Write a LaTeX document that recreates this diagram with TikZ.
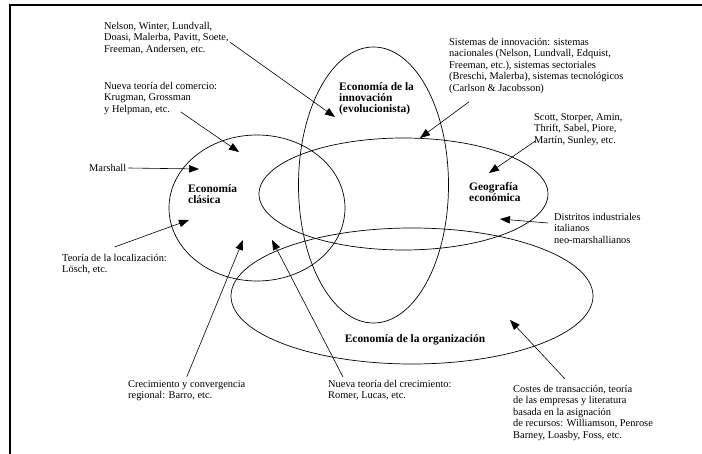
\documentclass[tikz,border=0pt]{standalone}
\usepackage{fontspec}
\setmainfont{Liberation Serif}
\usetikzlibrary{arrows.meta}
\begin{document}
\begin{tikzpicture}[x=1pt,y=1pt,
    lbl/.style={align=left,anchor=north west,font=\fontsize{10.4}{11.5}\selectfont},
    area/.style={align=left,anchor=north west,font=\fontsize{11.4}{11.2}\selectfont\bfseries},
    arr/.style={black,line width=0.6pt,-{Triangle[length=10pt,width=7.5pt]}},
    ring/.style={black,line width=0.7pt}]
    \tikzstyle{every node}+=[inner sep=0pt]
    \useasboundingbox (0,0) rectangle (702,-454);
    \draw [black,line width=2.5pt] (10,-454) -- (10,-5) -- (702,-5);
    % the four fields
    \draw [ring] (257,-208) ellipse (88 and 73);
    \draw [ring] (373.5,-185) ellipse (75 and 138);
    \draw [ring] (403.5,-194) ellipse (144.5 and 56);
    \draw [ring] (412,-296) ellipse (181 and 68);
    \node [area] (clasica) at (188,-184) {Economía\\clásica};
    \node [area] (innov) at (339,-82) {Economía de la\\innovación\\(evolucionista)};
    \node [area] (geo) at (469,-182) {Geografía\\económica};
    \node [area,anchor=center] (organiz) at (415,-340) {Economía de la organización};
    % authors
    \node [lbl] (nelson) at (104,-22) {Nelson, Winter, Lundvall,\\Doasi, Malerba, Pavitt, Soete,\\Freeman, Andersen, etc.};
    \node [lbl] (comercio) at (104,-82) {Nueva teoría del comercio:\\Krugman, Grossman\\y Helpman, etc.};
    \node [lbl,anchor=west] (marshall) at (89,-168) {Marshall};
    \node [lbl] (losch) at (62,-254) {Teoría de la localización:\\Lösch, etc.};
    \node [lbl] (barro) at (128,-380) {Crecimiento y convergencia\\regional: Barro, etc.};
    \node [lbl] (romer) at (328,-380) {Nueva teoría del crecimiento:\\Romer, Lucas, etc.};
    \node [lbl] (sistemas) at (449,-38) {Sistemas de innovación: sistemas\\nacionales (Nelson, Lundvall, Edquist,\\Freeman, etc.), sistemas sectoriales\\(Breschi, Malerba), sistemas tecnológicos\\(Carlson \& Jacobsson)};
    \node [lbl] (scott) at (534,-113) {Scott, Storper, Amin,\\Thrift, Sabel, Piore,\\Martín, Sunley, etc.};
    \node [lbl] (distritos) at (554,-213) {Distritos industriales\\italianos\\neo-marshallianos};
    \node [lbl] (costes) at (513,-385) {Costes de transacción, teoría\\de las empresas y literatura\\basada en la asignación\\de recursos: Williamson, Penrose\\Barney, Loasby, Foss, etc.};
    % arrow tips
    \coordinate (tnelson) at (335,-117);
    \coordinate (tcomercio) at (239,-152);
    \coordinate (tmarshall) at (199,-169);
    \coordinate (tlosch) at (189,-220);
    \coordinate (tbarro) at (243,-240);
    \coordinate (tromer) at (272,-240);
    \coordinate (tsistemas) at (420,-138);
    \coordinate (tscott) at (489,-173);
    \coordinate (tdistritos) at (500,-219);
    \coordinate (tcostes) at (510,-320);
    \draw [arr] ([shift={(1pt,-4pt)}]nelson.east) -- (tnelson);
    \draw [arr] ([shift={(20pt,3pt)}]comercio.south) -- (tcomercio);
    \draw [arr] ([xshift=2pt]marshall.east) -- (tmarshall);
    \draw [arr] ([shift={(0pt,7pt)}]losch.north) -- (tlosch);
    \draw [arr] ([yshift=3pt]barro.north) -- (tbarro);
    \draw [arr] ([shift={(15pt,3pt)}]romer.north west) -- (tromer);
    \draw [arr] ([shift={(20pt,-8pt)}]sistemas.south west) -- (tsistemas);
    \draw [arr] ([shift={(2pt,5pt)}]scott.south west) -- (tscott);
    \draw [arr] ([shift={(-6pt,-10pt)}]distritos.north west) -- (tdistritos);
    \draw [arr] ([shift={(-18pt,6pt)}]costes.north) -- (tcostes);
\end{tikzpicture}
\end{document}
